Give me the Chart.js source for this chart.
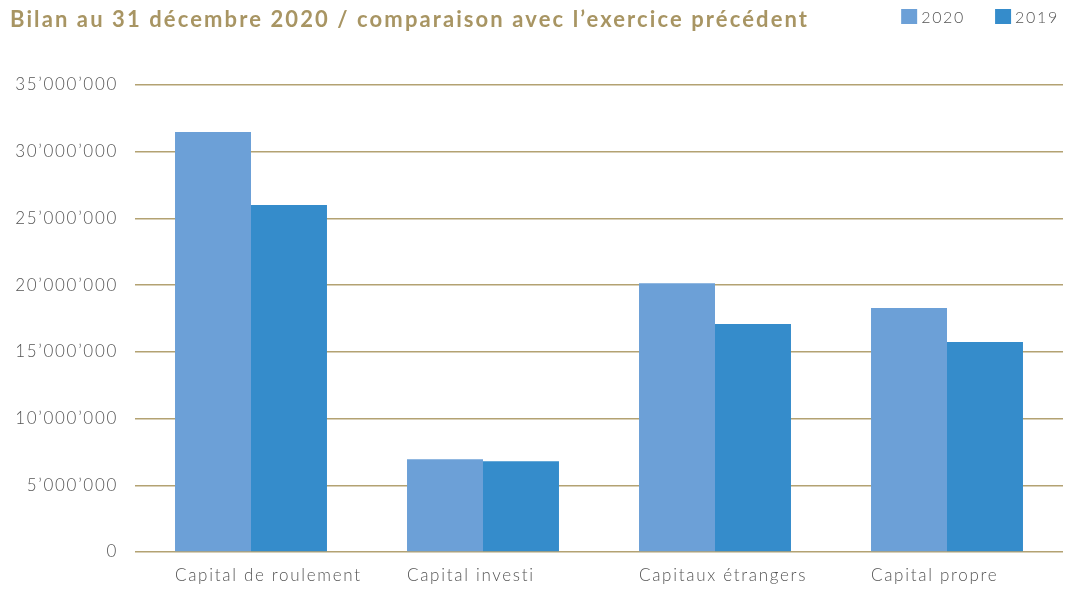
<!DOCTYPE html>
<html>
<head>
<meta charset="utf-8">
<script src="https://cdn.jsdelivr.net/npm/chart.js@4"></script>
<style>
  html, body { margin: 0; padding: 0; background: #fff; }
  #wrap { width: 1065px; height: 589px; }
</style>
</head>
<body>
<div id="wrap"><canvas id="bilanChart"></canvas></div>
<script>
const categories = ['Capital de roulement', 'Capital investi', 'Capitaux étrangers', 'Capital propre'];
const values2020 = [31480000, 6950000, 20150000, 18280000];
const values2019 = [26000000, 6800000, 17080000, 15730000];
const yTicks = [0, 5000000, 10000000, 15000000, 20000000, 25000000, 30000000, 35000000];

const titleText = 'Bilan au 31 décembre 2020 / comparaison avec l\u2019exercice précédent';
const gold = '#a89563';
const gridGold = '#b3a272';
const grey = '#555555';

// swiss style thousands separator
function swiss(v) {
  return String(v).replace(/\B(?=(\d{3})+(?!\d))/g, '\u2019');
}

// title on the left and legend on the right, same row
const headerPlugin = {
  id: 'header',
  afterDraw(chart) {
    const ctx = chart.ctx;
    ctx.save();
    ctx.letterSpacing = '2.1px';
    ctx.fillStyle = gold;
    ctx.font = 'bold 22px Lato';
    ctx.textBaseline = 'alphabetic';
    ctx.textAlign = 'left';
    ctx.fillText(titleText, 10, 27);

    ctx.letterSpacing = '1.7px';
    ctx.font = '300 16px Lato';
    const items = chart.data.datasets.map(ds => ({
      text: ds.label, color: ds.backgroundColor, w: ctx.measureText(ds.label).width
    }));
    const box = 16, gap = 4, between = 30;
    let total = 0;
    items.forEach((it, i) => { total += box + gap + it.w + (i ? between : 0); });
    let x = chart.width - 6 - total;
    ctx.textBaseline = 'middle';
    items.forEach((it, i) => {
      if (i) x += between;
      ctx.fillStyle = it.color;
      ctx.fillRect(x, 9, box, 15);
      ctx.fillStyle = grey;
      ctx.fillText(it.text, x + box + gap, 18);
      x += box + gap + it.w;
    });
    ctx.restore();
  }
};

const spacingPlugin = {
  id: 'spacing',
  beforeDraw(chart) { chart.ctx.letterSpacing = '1.7px'; }
};

new Chart(document.getElementById('bilanChart'), {
  type: 'bar',
  data: {
    labels: categories,
    datasets: [
      { label: '2020', data: values2020, backgroundColor: '#6ca0d7' },
      { label: '2019', data: values2019, backgroundColor: '#358ccb' }
    ]
  },
  options: {
    responsive: true,
    maintainAspectRatio: false,
    animation: false,
    layout: { padding: { top: 85, right: 2, bottom: 0, left: 0 } },
    datasets: {
      bar: { categoryPercentage: 0.655, barPercentage: 1.0 }
    },
    plugins: {
      legend: { display: false },
      title: { display: false },
      tooltip: { enabled: false }
    },
    scales: {
      x: {
        grid: { display: false, drawTicks: false },
        border: { display: false },
        afterFit(scale) { scale.height = 37; },
        ticks: {
          color: grey,
          font: { family: 'Lato', size: 17, weight: '300' },
          align: 'start',
          labelOffset: -76,
          padding: 13,
          maxRotation: 0,
          autoSkip: false
        }
      },
      y: {
        min: 0,
        max: 35000000,
        afterFit(scale) { scale.width = 135; },
        afterBuildTicks(scale) { scale.ticks = yTicks.map(v => ({ value: v })); },
        grid: { color: gridGold, lineWidth: 1.5, drawTicks: false },
        border: { display: false },
        ticks: {
          color: grey,
          font: { family: 'Lato', size: 17, weight: '300' },
          padding: 17,
          callback: v => swiss(v)
        }
      }
    }
  },
  plugins: [spacingPlugin, headerPlugin]
});
</script>
</body>
</html>
